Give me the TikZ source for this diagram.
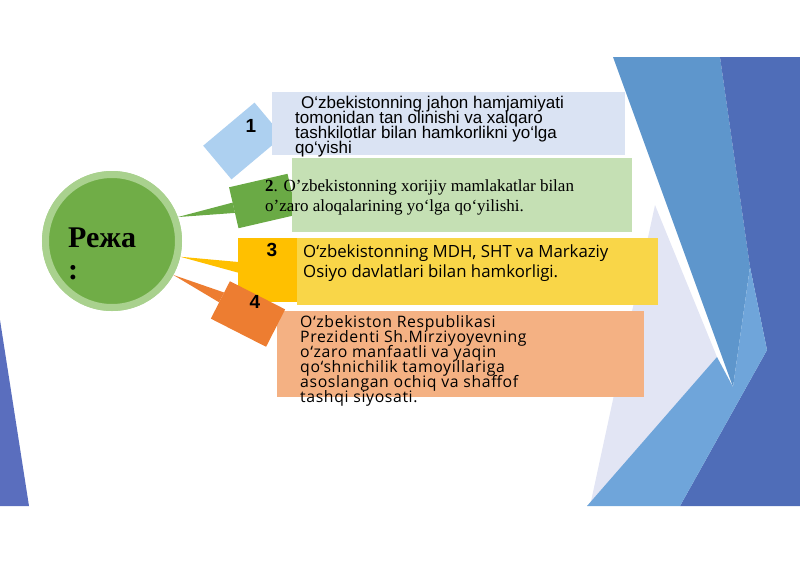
\documentclass[tikz,border=0pt]{standalone}
\usepackage{fontspec}
\usetikzlibrary{positioning}
\newfontfamily\arialfont{Liberation Sans}
\newfontfamily\timesfont{Liberation Serif}
\newfontfamily\opensfont{Open Sans}
\newfontfamily\openswide[LetterSpace=4]{Open Sans}
\newcommand\tightlines{\lineskiplimit=-\maxdimen}

\definecolor{facetmid}{HTML}{5E96CC}
\definecolor{facetdark}{HTML}{4F6DB8}
\definecolor{facetlight}{HTML}{6FA5DA}
\definecolor{facetpale}{HTML}{E2E5F4}
\definecolor{facetleft}{HTML}{5A6EBE}
\definecolor{planfill}{HTML}{70AD47}
\definecolor{planring}{HTML}{A9D18E}
\definecolor{tabblue}{HTML}{ADD0F0}
\definecolor{tabgreen}{HTML}{6AAA45}
\definecolor{tabamber}{HTML}{FFC000}
\definecolor{taborange}{HTML}{ED7D31}
\definecolor{boxblue}{HTML}{DAE3F3}
\definecolor{boxgreen}{HTML}{C5E0B4}
\definecolor{boxyellow}{HTML}{F9D648}
\definecolor{boxsalmon}{HTML}{F4B183}

\begin{document}
\begin{tikzpicture}[x=1pt, y=-1pt]
    % Styles
    \tikzstyle{box} = [rectangle, anchor=north west, inner sep=0pt, outer sep=0pt]
    \tikzstyle{tab} = [rectangle, inner sep=0pt, outer sep=0pt]
    \tikzstyle{num} = [inner sep=0pt, font=\arialfont\bfseries\fontsize{19}{19}\selectfont]
    \tikzstyle{txt} = [align=left, inner sep=0pt]
    \tikzstyle{pointer} = [draw=none]

    \useasboundingbox (0,0) rectangle (800,565);

    % Background facets
    \fill[facetleft] (0,320) -- (29,506) -- (0,506) -- cycle;
    \fill[facetpale] (655,205) -- (717,357) -- (590,506) -- cycle;
    \fill[facetmid] (613,57) -- (720,57) -- (750,267) -- (733,387) -- cycle;
    \fill[facetdark] (720,57) -- (800,57) -- (800,506) -- (680,506) -- (767,350) -- (750,267) -- cycle;
    \fill[facetlight] (587,506) -- (717,357) -- (733,387) -- (750,267) -- (767,350) -- (680,506) -- cycle;

    % Tabs behind the boxes
    \node[tab, fill=tabblue, minimum width=67pt, minimum height=44pt, rotate=40] (c1) at (243,141) {};
    \node[tab, fill=tabgreen, minimum width=60pt, minimum height=42pt, rotate=13] (c2) at (263,201) {};
    \node[tab, fill=tabamber, minimum width=60pt, minimum height=64pt] (c3) at (268,270) {};

    % Boxes
    \node[box, fill=boxblue, minimum width=353pt, minimum height=63pt] (b1) at (272,92) {};
    \node[box, fill=boxgreen, minimum width=340pt, minimum height=74pt] (b2) at (292,158) {};
    \node[box, fill=boxyellow, minimum width=361pt, minimum height=67pt] (b3) at (297,238) {};
    \node[box, fill=boxsalmon, minimum width=367pt, minimum height=86pt] (b4) at (277,311) {};

    \node[tab, fill=taborange, minimum width=62pt, minimum height=42pt, rotate=-27] (c4) at (248,314) {};

    % Plan circle
    \node[circle, fill=planfill, draw=planring, line width=7pt, minimum size=133pt] (plan) at (112,241) {};

    % Pointers
    \fill[pointer, tabgreen] (plan.20) -- (c2.170) -- (c2.190) -- cycle;
    \fill[pointer, tabamber] (plan.-13) -- (c3.165) -- (c3.185) -- cycle;
    \fill[pointer, taborange] (plan.-29) -- (c4.165) -- (c4.185) -- cycle;
    \node[circle, fill=planfill, draw=planring, line width=7pt, minimum size=133pt] at (plan) {};

    % Texts
    \node[txt, anchor=north west, font=\timesfont\bfseries\fontsize{30}{32}\selectfont\tightlines] (plantext) at (68,228) {Режа\\:};

    \node[num] (n1) at (251,126) {1};
    \node[num] (n3) at (272,250) {3};
    \node[num] (n4) at (255,302) {4};

    \node[txt, below right=4pt and 23pt of b1.north west, font=\arialfont\fontsize{17}{15}\selectfont\tightlines] (t1)
        {\hspace*{6pt}O‘zbekistonning jahon hamjamiyati\\tomonidan tan olinishi va xalqaro\\tashkilotlar bilan hamkorlikni yo‘lga\\qo‘yishi};
    \node[txt, below right=22pt and -27pt of b2.north west, font=\timesfont\fontsize{17}{20}\selectfont\tightlines] (t2)
        {\textbf{2}. O’zbekistonning xorijiy mamlakatlar bilan\\o’zaro aloqalarining yo‘lga qo‘yilishi.};
    \node[txt, below right=7pt and 6pt of b3.north west, font=\opensfont\fontsize{16.8}{20}\selectfont\tightlines] (t3)
        {O‘zbekistonning MDH, SHT va Markaziy\\Osiyo davlatlari bilan hamkorligi.};
    \node[txt, below right=4pt and 23pt of b4.north west, font=\openswide\fontsize{15.8}{15}\selectfont\tightlines] (t4)
        {O‘zbekiston Respublikasi\\Prezidenti Sh.Mirziyoyevning\\o‘zaro manfaatli va yaqin\\qo‘shnichilik tamoyillariga\\asoslangan ochiq va shaffof\\tashqi siyosati.};

\end{tikzpicture}
\end{document}
